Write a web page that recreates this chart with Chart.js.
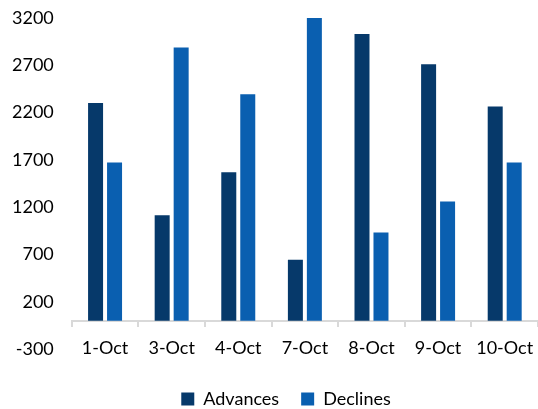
<!DOCTYPE html>
<html>
<head>
<meta charset="utf-8">
<script src="https://cdn.jsdelivr.net/npm/chart.js@4"></script>
<style>
  html, body { margin: 0; padding: 0; background: #fff; }
</style>
</head>
<body>
<canvas id="chart" width="538" height="409"></canvas>
<script>
// values
const categories = ['1-Oct', '3-Oct', '4-Oct', '7-Oct', '8-Oct', '9-Oct', '10-Oct'];
const advances = [2300, 1115, 1570, 643, 3030, 2710, 2265];
const declines = [1672, 2888, 2395, 3208, 932, 1260, 1672];
const yTicks = [-300, 200, 700, 1200, 1700, 2200, 2700, 3200];

// nudge the legend a bit right, like in the original
const legendShift = {
    id: 'legendShift',
    afterLayout(chart) {
        if (chart.legend) {
            chart.legend.left += 16;
            chart.legend.right += 16;
        }
    }
};

const ctx = document.getElementById('chart');

new Chart(ctx, {
    type: 'bar',
    data: {
        labels: categories,
        datasets: [{
            label: 'Advances',
            data: advances,
            backgroundColor: '#06396A'
        }, {
            label: 'Declines',
            data: declines,
            backgroundColor: '#0A5FB0'
        }]
    },
    options: {
        responsive: false,
        devicePixelRatio: 1,
        animation: false,
        categoryPercentage: 0.57,
        barPercentage: 0.79,
        layout: {
            autoPadding: false,
            padding: { top: 18, right: 0, left: 2, bottom: -9 }
        },
        scales: {
            x: {
                position: { y: 0 },
                afterFit: (scale) => {
                    scale.paddingLeft = 0;
                    scale.paddingRight = 0;
                    scale.paddingTop = 0;
                    scale.paddingBottom = 0;
                },
                grid: {
                    offset: true,
                    drawOnChartArea: false,
                    drawTicks: true,
                    tickLength: 5,
                    color: '#d9d9d9',
                    lineWidth: 2
                },
                border: { color: '#d9d9d9', width: 2 },
                ticks: {
                    color: '#000',
                    padding: 12,
                    maxRotation: 0,
                    minRotation: 0,
                    autoSkip: false,
                    font: { family: 'Lato', size: 18 }
                }
            },
            y: {
                min: -300,
                max: 3200,
                afterBuildTicks: (scale) => {
                    scale.ticks = yTicks.map(v => ({ value: v }));
                },
                afterFit: (scale) => {
                    scale.paddingTop = 0;
                    scale.paddingBottom = 0;
                },
                grid: { display: false },
                border: { display: false },
                ticks: {
                    color: '#000',
                    padding: 10,
                    callback: (v) => String(v),
                    font: { family: 'Lato', size: 18 }
                }
            }
        },
        plugins: {
            legend: {
                position: 'bottom',
                title: {
                    display: true,
                    text: '',
                    font: { size: 10 },
                    padding: { top: 7, bottom: 0 }
                },
                labels: {
                    boxWidth: 13,
                    boxHeight: 13,
                    padding: 22,
                    color: '#000',
                    font: { family: 'Lato', size: 18 }
                }
            },
            tooltip: { enabled: false }
        }
    },
    plugins: [legendShift]
});
</script>
</body>
</html>
